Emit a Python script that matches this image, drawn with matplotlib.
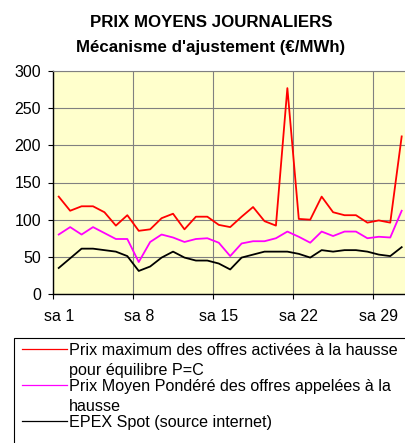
import matplotlib
matplotlib.use("Agg")
import matplotlib.pyplot as plt
from matplotlib.lines import Line2D
from matplotlib.patches import Rectangle

plt.rcParams['font.family'] = ['Liberation Sans', 'DejaVu Sans']

days = list(range(1, 32))
tick_days = [1, 8, 15, 22, 29]
tick_labels = ["sa 1", "sa 8", "sa 15", "sa 22", "sa 29"]

prix_max = [131, 112, 118, 118, 110, 92, 106, 85, 87, 102, 108, 87, 104, 104, 93,
            90, 104, 117, 98, 92, 277, 101, 100, 131, 110, 106, 106, 96, 99, 96, 212]
prix_moyen = [80, 90, 80, 90, 82, 74, 74, 43, 70, 80, 76, 70, 74, 75, 69,
              51, 68, 71, 71, 75, 84, 77, 69, 84, 78, 84, 84, 75, 77, 76, 112]
epex = [35, 48, 61, 61, 59, 57, 51, 31, 37, 49, 57, 49, 45, 45, 41,
        33, 49, 53, 57, 57, 57, 54, 49, 59, 57, 59, 59, 57, 53, 51, 63]

legend_labels = [
    ["Prix maximum des offres activées à la hausse", "pour équilibre P=C"],
    ["Prix Moyen Pondéré des offres appelées à la", "hausse"],
    ["EPEX Spot (source internet)"],
]
colors = ["#FF0000", "#FF00FF", "#000000"]

W, H = 406, 443
fig = plt.figure(figsize=(W / 100, H / 100), dpi=100)
fig.patch.set_facecolor("white")

left, right, top, bottom = 53, 407.4, 71, 294
ax = fig.add_axes([left / W, 1 - bottom / H, (right - left) / W, (bottom - top) / H])
ax.set_facecolor("#FFFFCC")

for vals, c in zip([prix_max, prix_moyen, epex], colors):
    ax.plot(days, vals, color=c, lw=1.3, zorder=3)

ax.set_xlim(0.5, 31.5)
ax.set_ylim(0, 300)
ax.set_yticks(range(0, 301, 50))
ax.set_xticks([0.5, 7.5, 14.5, 21.5, 28.5])
ax.set_xticks(tick_days, minor=True)
ax.set_xticklabels(tick_labels, minor=True)
ax.tick_params(axis='x', which='major', labelbottom=False, length=3.5, width=0.8, color='black')
ax.tick_params(axis='x', which='minor', length=0, pad=11, labelsize=11.5)
ax.tick_params(axis='y', length=3.6, width=0.8, pad=5, labelsize=11.5)
ax.grid(True, which='major', color='#808080', lw=0.8, zorder=1)
ax.set_axisbelow(True)
for s in ['top', 'right']:
    ax.spines[s].set_color('#808080')
    ax.spines[s].set_linewidth(0.8)
for s in ['left', 'bottom']:
    ax.spines[s].set_color('black')
    ax.spines[s].set_linewidth(1.0)

# Title
fig.text(211 / W, 1 - 26.7 / H, "PRIX MOYENS JOURNALIERS", ha='center', va='baseline',
         fontsize=12.2, fontweight='bold')
fig.text(211 / W, 1 - 51.7 / H, "Mécanisme d'ajustement (€/MWh)", ha='center', va='baseline',
         fontsize=12.2, fontweight='bold')

# Legend box
fig.patches.append(Rectangle((14 / W, -0.05), 1.0, 1 - 338 / H + 0.05, transform=fig.transFigure,
                             facecolor='white', edgecolor='black', lw=0.8))
line_y = [349, 385, 421]
baselines = [[355, 375], [391, 411], [427]]
for c, ly, bls, labs in zip(colors, line_y, baselines, legend_labels):
    fig.lines.append(Line2D([22 / W, 67 / W], [1 - ly / H, 1 - ly / H], transform=fig.transFigure,
                            color=c, lw=0.9))
    for bl, lab in zip(bls, labs):
        fig.text(69 / W, 1 - bl / H, lab, ha='left', va='baseline', fontsize=11.6)

fig.savefig("out.png", dpi=100)
